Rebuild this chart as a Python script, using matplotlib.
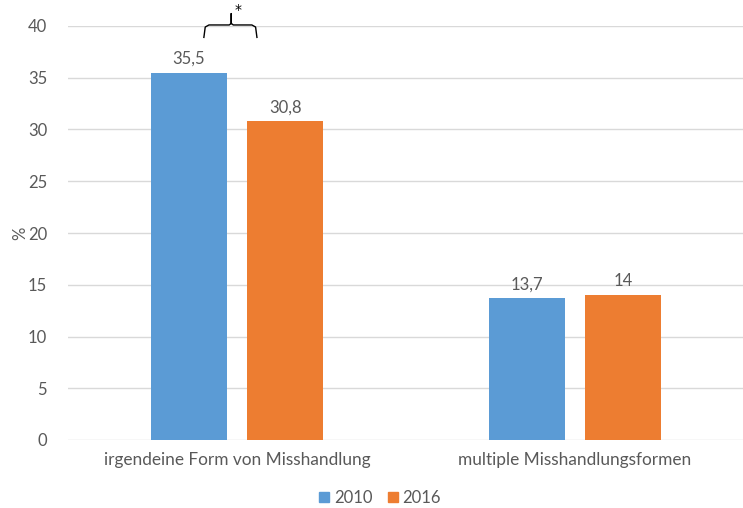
import matplotlib
matplotlib.use("Agg")
import matplotlib.pyplot as plt
import numpy as np
from matplotlib.patches import Patch

categories = ["irgendeine Form von Misshandlung", "multiple Misshandlungsformen"]
series_names = ["2010", "2016"]
values_2010 = [35.5, 13.7]
values_2016 = [30.8, 14.0]
labels_2010 = ["35,5", "13,7"]
labels_2016 = ["30,8", "14"]
y_ticks = [0, 5, 10, 15, 20, 25, 30, 35, 40]

blue = "#5B9BD5"
orange = "#ED7D31"
text_col = "#595959"
grid_col = "#D9D9D9"
fs = 12

plt.rcParams["font.family"] = ["Lato", "DejaVu Sans"]

fig = plt.figure(figsize=(7.43, 5.08), dpi=100)
ax = fig.add_axes([68 / 743, 68 / 508, 676 / 743, 414 / 508])

x = np.arange(len(categories))
w = 0.225
off = 0.143
b1 = ax.bar(x - off, values_2010, w, color=blue, zorder=3)
b2 = ax.bar(x + off, values_2016, w, color=orange, zorder=3)

for bars, labs in ((b1, labels_2010), (b2, labels_2016)):
    for r, lab in zip(bars, labs):
        ax.text(r.get_x() + r.get_width() / 2, r.get_height() + 0.55, lab,
                ha="center", va="bottom", fontsize=fs, color=text_col)

ax.set_xlim(-0.5, 1.5)
ax.set_ylim(0, 40)
ax.set_yticks(y_ticks)
ax.set_yticklabels([str(t) for t in y_ticks], fontsize=fs, color=text_col)
ax.set_xticks(x)
ax.set_xticklabels(categories, fontsize=12.4, color=text_col)
ax.tick_params(axis="both", length=0)
ax.tick_params(axis="y", pad=15)
ax.tick_params(axis="x", pad=9)
ax.grid(axis="y", color=grid_col, linewidth=1, zorder=0)
for s in ax.spines.values():
    s.set_visible(False)
ax.set_ylabel("%", fontsize=fs, color=text_col, labelpad=0)

# significance brace between the two 2010/2016 bars of the first group
xl, xr, xm = -0.098, 0.059, -0.017
y_line, y_end, y_tip = 40.1, 38.9, 41.2
brace_x = [xl, xl + 0.004, xl + 0.015, xm - 0.006, xm, xm, xm, xm + 0.006, xr - 0.015, xr - 0.004, xr]
brace_y = [y_end, y_line - 0.2, y_line, y_line, y_line + 0.15, y_tip, y_line + 0.15, y_line, y_line, y_line - 0.2, y_end]
ax.plot(brace_x, brace_y, color="black", linewidth=1, clip_on=False, zorder=4)
ax.text(xm + 0.02, 40.9, "*", fontsize=10, color="black", ha="center", va="bottom",
        family="DejaVu Sans")

handles = [Patch(color=blue), Patch(color=orange)]
fig.legend(handles, series_names, loc="center", bbox_to_anchor=(380 / 743, 1 - 498 / 508),
           ncol=2, frameon=False, fontsize=fs, handlelength=0.6, handleheight=0.6,
           handletextpad=0.3, columnspacing=0.9, labelcolor=text_col)

fig.savefig("out.png", dpi=100)
